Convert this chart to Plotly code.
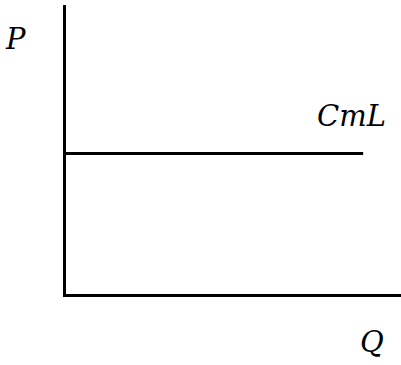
import plotly.graph_objects as go

# Data
q_values = [0, 8.87]          # quantity span of the CmL line
cml_values = [5, 5]           # long-run marginal cost (constant)
line_label = "CmL"
x_label = "Q"
y_label = "P"

fig = go.Figure()
fig.add_trace(go.Scatter(x=q_values, y=cml_values, mode="lines",
                         line=dict(color="black", width=3),
                         showlegend=False, hoverinfo="skip"))

font = dict(family="DejaVu Serif", size=29, color="black")

fig.add_annotation(x=8.51, y=6.34, xref="x", yref="y", text=f"<i>{line_label}</i>",
                   showarrow=False, font=font, xanchor="center", yanchor="middle")
fig.add_annotation(x=-0.152, y=0.884, xref="paper", yref="paper", text=f"<i>{y_label}</i>",
                   showarrow=False, font=font, xanchor="center", yanchor="middle")
fig.add_annotation(x=0.913, y=-0.166, xref="paper", yref="paper", text=f"<i>{x_label}</i>",
                   showarrow=False, font=font, xanchor="center", yanchor="middle")

axis_common = dict(showgrid=False, zeroline=False, showticklabels=False, ticks="",
                   showline=True, linecolor="black", linewidth=3, fixedrange=True)
fig.update_xaxes(range=[0, 10], **axis_common)
fig.update_yaxes(range=[0, 10.29], **axis_common)

fig.update_layout(width=401, height=365, margin=dict(l=66, r=0, t=5, b=71),
                  paper_bgcolor="white", plot_bgcolor="white")

fig.write_html("out.html", config={"displayModeBar": False},
               post_script="document.body.style.margin='0';document.body.style.overflow='hidden';")
